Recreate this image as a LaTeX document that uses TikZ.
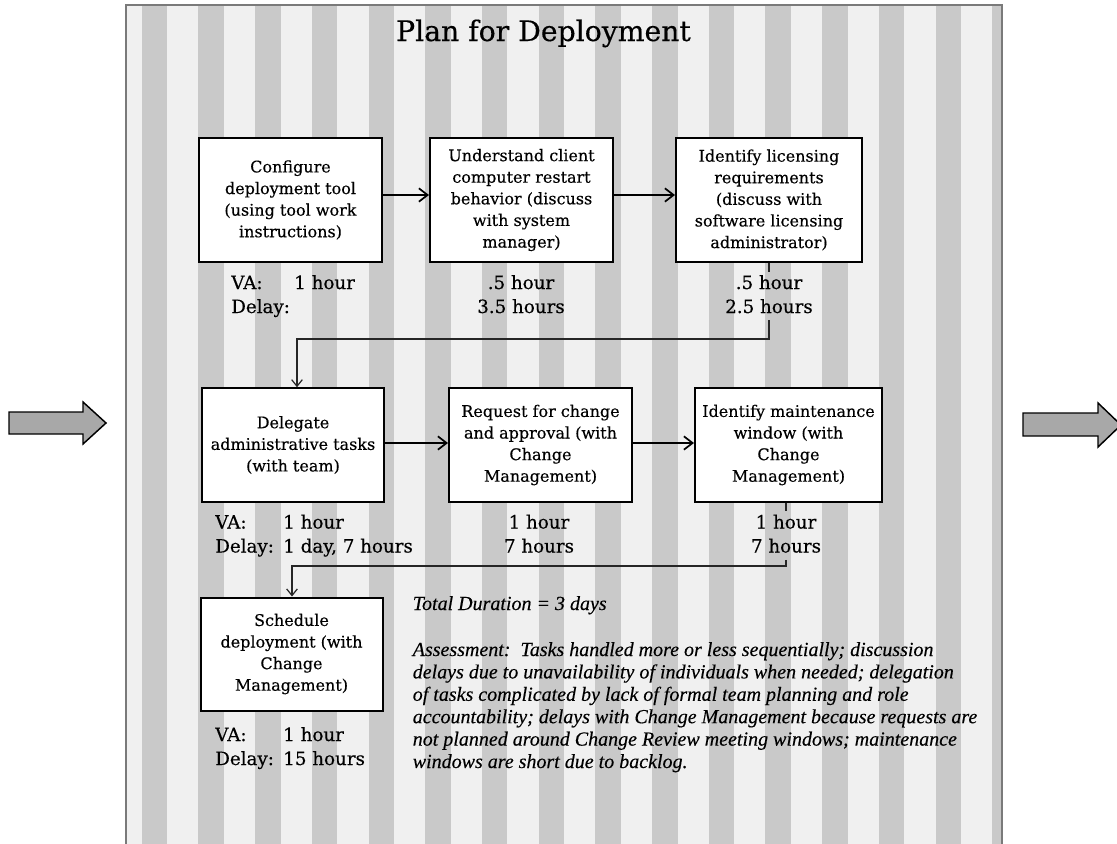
\documentclass[tikz,border=0pt]{standalone}
\usepackage{fontspec}
\setmainfont{DejaVu Serif}[UprightFeatures={FakeBold=0.35}]
\newfontfamily\assessfont{Liberation Serif}[ItalicFeatures={FakeBold=0.3}]
\usetikzlibrary{arrows.meta,calc}
\definecolor{stripedark}{HTML}{C9C9C9}
\definecolor{stripelight}{HTML}{F0F0F0}
\definecolor{panelborder}{HTML}{7A7A7A}
\definecolor{bigarrow}{HTML}{A8A8A8}
\tikzset{
  taskbox/.style={draw=black, line width=1.5pt, fill=white, align=center, inner sep=2pt,
    font=\fontsize{12}{16.2}\selectfont},
  timetext/.style={inner sep=0pt, font=\fontsize{13.7}{18}\selectfont},
  notetext/.style={inner sep=0pt, font=\assessfont\itshape\fontsize{15}{16.8}\selectfont},
  flowarrow/.style={draw=black, line width=1.4pt, -{Straight Barb[length=6.5pt,width=10pt,line width=1.3pt]}},
  elbow/.style={draw=black!85, line width=0.9pt},
  elbowarrow/.style={elbow, -{Straight Barb[length=5pt,width=8pt,line width=0.9pt]}},
  blockarrow/.style={draw=black, line width=1.1pt, fill=bigarrow, line join=miter}
}
\begin{document}
\begin{tikzpicture}[x=0.75pt,y=-0.75pt]
\useasboundingbox (0,0) rectangle (1117,843);
% panel
\fill[stripelight] (126,5) rectangle (1002,860);
\begin{scope}
  \clip (126,5) rectangle (1002,860);
  \foreach \k in {0,...,15} {
    \fill[stripedark] ({141.7+56.7*\k},5) rectangle ++(25.5,855);
  }
\end{scope}
\draw[panelborder, line width=1.5pt] (126,860) -- (126,5) -- (1002,5) -- (1002,860);

% side arrows
\draw[blockarrow] (9,412) -- (83,412) -- (83,402) -- (106,423) -- (83,444) -- (83,434) -- (9,434) -- cycle;
\draw[blockarrow] (1023,413) -- (1098,413) -- (1098,403) -- (1121,425) -- (1098,447) -- (1098,436) -- (1023,436) -- cycle;

% title
\node[inner sep=0pt, anchor=base, font=\fontsize{21.2}{24}\selectfont] (title) at (543.5,41) {Plan for Deployment};

% boxes
\node[taskbox, minimum width=137.25pt, minimum height=92.6pt] (b1) at (290.5,200)
  {Configure\\deployment tool\\(using tool work\\instructions)};
\node[taskbox, minimum width=137.25pt, minimum height=92.6pt] (b2) at (521.5,200)
  {Understand client\\computer restart\\behavior (discuss\\with system\\manager)};
\node[taskbox, minimum width=139.5pt, minimum height=92.6pt] (b3) at (769,200)
  {Identify licensing\\requirements\\(discuss with\\software licensing\\administrator)};
\node[taskbox, minimum width=136.5pt, minimum height=85.1pt] (b4) at (293,445)
  {Delegate\\administrative tasks\\(with team)};
\node[taskbox, minimum width=137.25pt, minimum height=85.1pt] (b5) at (540.5,445)
  {Request for change\\and approval (with\\Change\\Management)};
\node[taskbox, minimum width=140.25pt, minimum height=85.1pt] (b6) at (788.5,445)
  {Identify maintenance\\window (with\\Change\\Management)};
\node[taskbox, minimum width=136.5pt, minimum height=84.75pt] (b7) at (291.5,654)
  {Schedule\\deployment (with\\Change\\Management)};

% time texts
\node[timetext, anchor=base west] (t1) at (231,289)
  {\begin{tabular}[t]{@{}l@{}}\makebox[47.25pt][l]{VA:}1 hour\\Delay:\end{tabular}};
\node[timetext, anchor=base] (t2) at (521,289)
  {\begin{tabular}[t]{@{}c@{}}.5 hour\\3.5 hours\end{tabular}};
\node[timetext, anchor=base] (t3) at (769,289)
  {\begin{tabular}[t]{@{}c@{}}.5 hour\\2.5 hours\end{tabular}};
\node[timetext, anchor=base west] (t4) at (215,528.5)
  {\begin{tabular}[t]{@{}l@{}}\makebox[51pt][l]{VA:}1 hour\\\makebox[51pt][l]{Delay:}1 day, 7 hours\end{tabular}};
\node[timetext, anchor=base] (t5) at (539,528.5)
  {\begin{tabular}[t]{@{}c@{}}1 hour\\7 hours\end{tabular}};
\node[timetext, anchor=base] (t6) at (786,528.5)
  {\begin{tabular}[t]{@{}c@{}}1 hour\\7 hours\end{tabular}};
\node[timetext, anchor=base west] (t7) at (215,741)
  {\begin{tabular}[t]{@{}l@{}}\makebox[51pt][l]{VA:}1 hour\\\makebox[51pt][l]{Delay:}15 hours\end{tabular}};

% notes
\node[notetext, anchor=base west] (total) at (412.5,610) {Total Duration = 3 days};
\node[notetext, anchor=base west] (assess) at (412.5,656)
  {\begin{tabular}[t]{@{}l@{}}
  Assessment:\ \ Tasks handled more or less sequentially; discussion\\
  delays due to unavailability of individuals when needed; delegation\\
  of tasks complicated by lack of formal team planning and role\\
  accountability; delays with Change Management because requests are\\
  not planned around Change Review meeting windows; maintenance\\
  windows are short due to backlog.
  \end{tabular}};

% connectors
\draw[flowarrow] ([yshift=3.75pt]b1.east) -- ([yshift=3.75pt]b2.west);
\draw[flowarrow] ([yshift=3.75pt]b2.east) -- ([yshift=3.75pt]b3.west);
\draw[flowarrow] ([yshift=1.5pt]b4.east) -- ([yshift=1.5pt]b5.west);
\draw[flowarrow] ([yshift=1.5pt]b5.east) -- ([yshift=1.5pt]b6.west);

\coordinate (e1) at (297,339);
\draw[elbow] (b3.south) -- (t3.north);
\draw[elbowarrow] (t3.south) |- (e1) -- (e1 |- b4.north);

\coordinate (e2) at (292,566);
\draw[elbow] (t6.north |- b6.south) -- (t6.north);
\draw[elbowarrow] (t6.south) |- (e2) -- (e2 |- b7.north);
\end{tikzpicture}
\end{document}
